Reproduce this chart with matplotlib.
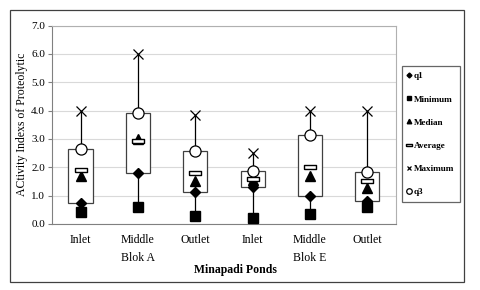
import matplotlib.pyplot as plt
from matplotlib.patches import Rectangle

plt.rcParams['font.family'] = ['Liberation Serif', 'DejaVu Serif']

labels = ['Inlet', 'Middle', 'Outlet', 'Inlet', 'Middle', 'Outlet']
groups = ['Blok A', 'Blok E']
q1 = [0.72, 1.8, 1.12, 1.3, 1.0, 0.8]
minimum = [0.42, 0.58, 0.28, 0.2, 0.35, 0.6]
median = [1.7, 3.0, 1.5, 1.55, 1.7, 1.25]
average = [1.9, 2.92, 1.8, 1.6, 2.0, 1.5]
maximum = [4.0, 6.0, 3.85, 2.5, 4.0, 4.0]
q3 = [2.65, 3.92, 2.57, 1.85, 3.15, 1.82]

fig = plt.figure(figsize=(4.8, 2.9), dpi=100)
ax = fig.add_axes([0.108, 0.228, 0.717, 0.684])

x = list(range(len(labels)))
bar_shape = [(-1, -0.3), (1, -0.3), (1, 0.3), (-1, 0.3), (-1, -0.3)]

# whiskers, then boxes on top
ax.vlines(x, minimum, maximum, color='black', lw=0.9, zorder=2)
ax.bar(x, [b - a for a, b in zip(q1, q3)], bottom=q1, width=0.42,
       facecolor='white', edgecolor='#404040', lw=0.9, zorder=3)

ax.plot(x, q1, 'D', color='black', ms=5, zorder=5, label='q1')
ax.plot(x, minimum, 's', color='black', ms=7, zorder=5, label='Minimum')
ax.plot(x, median, '^', color='black', ms=6.5, zorder=5, label='Median')
ax.plot(x, average, marker=bar_shape, ls='none', mfc='white', mec='black',
        mew=1.0, ms=8, zorder=5, label='Average')
ax.plot(x, maximum, 'x', color='black', ms=7, mew=0.9, zorder=5, label='Maximum')
ax.plot(x, q3, 'o', mfc='white', mec='black', mew=0.9, ms=8, zorder=6, label='q3')

ax.set_xlim(-0.5, 5.5)
ax.set_ylim(0, 7)
ax.set_yticks([i * 1.0 for i in range(8)])
ax.set_yticklabels([f'{i:.1f}' for i in range(8)], fontsize=8)
ax.set_xticks(x)
ax.set_xticklabels(labels, fontsize=8.5)
ax.tick_params(axis='x', length=0, pad=7)
ax.tick_params(axis='y', length=3, direction='out', color='#808080', pad=2)
ax.grid(axis='y', color='#d9d9d9', lw=0.8, zorder=0)
ax.set_axisbelow(True)
for side in ['top', 'right']:
    ax.spines[side].set_color('#b0b0b0')
for side in ['left', 'bottom']:
    ax.spines[side].set_color('#808080')

for g, xc in zip(groups, [1, 4]):
    ax.text(xc, -0.17, g, transform=ax.get_xaxis_transform(), ha='center',
            va='center', fontsize=8.5)
fig.text(0.49, 0.07, 'Minapadi Ponds', ha='center', va='center',
         fontsize=8.5, fontweight='bold')
fig.text(0.046, 0.57, 'ACtivity Indexs of Proteolytic', rotation=90,
         ha='center', va='center', fontsize=8.5)

handles, names = ax.get_legend_handles_labels()
leg = fig.legend(handles, names, loc='upper left',
                 bbox_to_anchor=(0.8375, 0.772), frameon=True, fancybox=False,
                 handlelength=0.3, handletextpad=0.3, labelspacing=1.6,
                 borderpad=0.65, borderaxespad=0, markerscale=0.5,
                 prop={'size': 6.6, 'weight': 'bold'})
leg.get_frame().set_edgecolor('#404040')
leg.get_frame().set_linewidth(0.9)

fig.patches.append(Rectangle((10 / 480, 8 / 290), 454 / 480, 272 / 290,
                             transform=fig.transFigure, fill=False,
                             edgecolor='#404040', lw=0.9))

fig.savefig('out.png', dpi=100)
